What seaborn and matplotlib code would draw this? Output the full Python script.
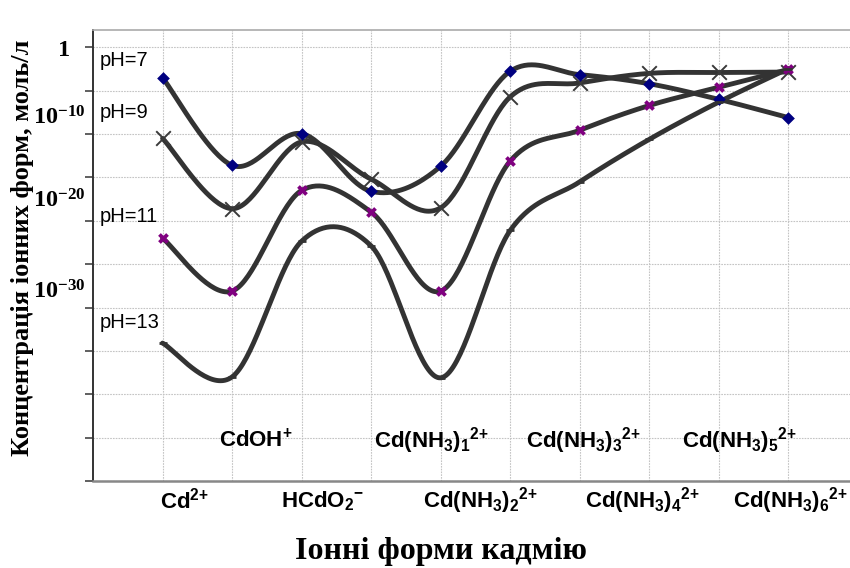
import numpy as np
import pandas as pd
import matplotlib
matplotlib.use("Agg")
import matplotlib.pyplot as plt
import matplotlib.transforms as mtransforms
import seaborn as sns

# ---------------- data ----------------
point_index = [1, 2, 3, 4, 5, 6, 7, 8, 9, 10]
# log10 of concentration (mol/L)
ph7 = [-3.5, -13.6, -9.95, -16.6, -13.7, -2.75, -3.15, -4.2, -6.0, -8.1]
ph9 = [-10.5, -18.6, -10.9, -15.2, -18.5, -5.7, -4.1, -3.0, -2.9, -2.85]
ph11 = [-22.0, -28.1, -16.5, -19.0, -28.1, -13.1, -9.55, -6.7, -4.6, -2.55]
ph13 = [-34.1, -38.0, -22.35, -22.9, -38.1, -21.1, -15.5, -10.6, -6.3, -2.45]
series_names = ["pH=7", "pH=9", "pH=11", "pH=13"]

categories = [r"Cd$^{2{+}}$", r"CdOH$^{+}$", r"HCdO$_2$$^{-}$",
              r"Cd(NH$_3$)$_1$$^{2{+}}$", r"Cd(NH$_3$)$_2$$^{2{+}}$",
              r"Cd(NH$_3$)$_3$$^{2{+}}$", r"Cd(NH$_3$)$_4$$^{2{+}}$",
              r"Cd(NH$_3$)$_5$$^{2{+}}$", r"Cd(NH$_3$)$_6$$^{2{+}}$"]
ytick_values = [0, -10, -20, -30]
ytick_texts = [r"$\mathsf{1}$", r"$\mathsf{10^{-10}}$", r"$\mathsf{10^{-20}}$", r"$\mathsf{10^{-30}}$"]
y_title = "Концентрація іонних форм, моль/л"
x_title = "Іонні форми кадмію"

# ---------------- layout / style ----------------
cat_label_x = [1.31, 2.34, 3.30, 4.87, 5.57, 7.05, 7.90, 9.30, 10.03]
cat_label_row = [0, 1, 0, 1, 0, 1, 0, 1, 0]     # 0 lower row, 1 upper row
ph_label_pos = [(0.1, 60), (0.1, 113), (0.1, 217), (0.1, 322)]  # x data, y pixel
ytick_offsets = [(63, 'center', -3), (85, 'right', 16), (85, 'right', 20), (85, 'right', 16)]

sns.set_style("white")
plt.rcParams['mathtext.fontset'] = 'custom'
plt.rcParams['mathtext.rm'] = 'Liberation Sans:bold'
plt.rcParams['mathtext.it'] = 'Liberation Sans:bold'
plt.rcParams['mathtext.bf'] = 'Liberation Sans:bold'
plt.rcParams['mathtext.sf'] = 'Liberation Serif:bold'
plt.rcParams['font.family'] = ['Liberation Sans', 'DejaVu Sans']
plt.rcParams['text.color'] = 'black'

W, H = 850, 568
fig = plt.figure(figsize=(W / 100, H / 100), dpi=100)
ax_left, ax_right, ax_top, ax_bottom = 93, 858, 30, 481
ax = fig.add_axes([ax_left / W, 1 - ax_bottom / H, (ax_right - ax_left) / W, (ax_bottom - ax_top) / H])


def smooth(xs, ys, n=40):
    P = np.column_stack([xs, ys]).astype(float)
    out = []
    for i in range(len(P) - 1):
        p0 = P[i - 1] if i > 0 else P[i]
        p1, p2 = P[i], P[i + 1]
        p3 = P[i + 2] if i + 2 < len(P) else P[i + 1]
        c1 = p1 + (p2 - p0) / 6.0
        c2 = p2 - (p3 - p1) / 6.0
        t = np.linspace(0, 1, n)[:, None]
        if i < len(P) - 2:
            t = t[:-1]
        B = (1 - t) ** 3 * p1 + 3 * (1 - t) ** 2 * t * c1 + 3 * (1 - t) * t ** 2 * c2 + t ** 3 * p2
        out.append(B)
    return np.vstack(out)


all_series = [ph7, ph9, ph11, ph13]
rows = []
for name, vals in zip(series_names, all_series):
    curve = smooth(point_index, vals)
    for k, (cx, cy) in enumerate(curve):
        rows.append({"series": name, "order": k, "x": cx, "conc": 10.0 ** cy})
curves = pd.DataFrame(rows)

line_color = "#333333"
sns.lineplot(data=curves, x="x", y="conc", hue="series", units="series", estimator=None,
             sort=False, palette=[line_color] * 4, linewidth=3.5, legend=False, ax=ax, zorder=3)

pts = pd.DataFrame({"x": point_index * 4,
                    "conc": [10.0 ** v for s in all_series for v in s],
                    "series": [n for n in series_names for _ in point_index]})
marker_styles = {
    "pH=7": dict(marker="D", color="#000080", s=42, linewidth=0),
    "pH=9": dict(marker="x", color="#3a3a3a", s=110, linewidth=1.4),
    "pH=11": dict(marker="X", color="#800080", s=60, linewidth=0),
    "pH=13": dict(marker="_", color="#333333", s=30, linewidth=2.0),
}
for name in series_names:
    sub = pts[pts["series"] == name]
    sns.scatterplot(data=sub, x="x", y="conc", ax=ax, zorder=4, legend=False, **marker_styles[name])

ax.set_yscale("log")
ax.set_ylim(1e-50, 1e2)
ax.set_xlim(0, 11)
ax.set_yticks([10.0 ** k for k in range(0, -51, -5)])
ax.yaxis.set_minor_locator(matplotlib.ticker.NullLocator())
ax.set_yticklabels([])
ax.set_xticks(point_index)
ax.set_xticklabels([])
ax.tick_params(axis="x", length=0)
ax.tick_params(axis="y", direction="out", length=6, width=1.2, color="#444444", left=True)
ax.grid(True, color="#c4c4c4", linestyle=(0, (1.5, 1.0)), linewidth=0.8)
ax.set_axisbelow(True)
ax.set_xlabel("")
ax.set_ylabel("")
for side, sp in ax.spines.items():
    sp.set_visible(True)
ax.spines["left"].set_color("#333333")
ax.spines["left"].set_linewidth(1.4)
ax.spines["bottom"].set_color("#888888")
ax.spines["bottom"].set_linewidth(1.8)
ax.spines["top"].set_color("#aaaaaa")
ax.spines["top"].set_linewidth(1.2)
ax.spines["right"].set_visible(False)

# y tick texts (serif bold)
for val, txt, (px, ha, dy) in zip(ytick_values, ytick_texts, ytick_offsets):
    trans = mtransforms.blended_transform_factory(fig.transFigure, ax.transData)
    trans = trans + mtransforms.ScaledTranslation(0, dy / 100.0, fig.dpi_scale_trans)
    ax.text(px / W, 10.0 ** val, txt, transform=trans, ha=ha, va="center",
            fontsize=17.5, color="black")

# category labels
for lab, lx, row in zip(categories, cat_label_x, cat_label_row):
    yfrac = 0.089 if row == 1 else -0.044
    ax.text(lx, yfrac, lab, transform=ax.get_xaxis_transform(), ha="center", va="center",
            fontsize=16, fontweight="bold", color="black", clip_on=False)

# pH labels
for name, (lx, py) in zip(series_names, ph_label_pos):
    ax.text(lx, 1 - (py - ax_top) / (ax_bottom - ax_top), name,
            transform=mtransforms.blended_transform_factory(ax.transData, ax.transAxes),
            ha="left", va="center", fontsize=14.5, color="black")

fig.text(23 / W, 1 - 248 / H, y_title, rotation=90, ha="center", va="center",
         fontsize=19, fontfamily="Liberation Serif", fontweight="bold", color="black")
fig.text(441 / W, 1 - 552 / H, x_title, ha="center", va="center",
         fontsize=23, fontfamily="Liberation Serif", fontweight="bold", color="black")

fig.savefig("out.png", dpi=100)
